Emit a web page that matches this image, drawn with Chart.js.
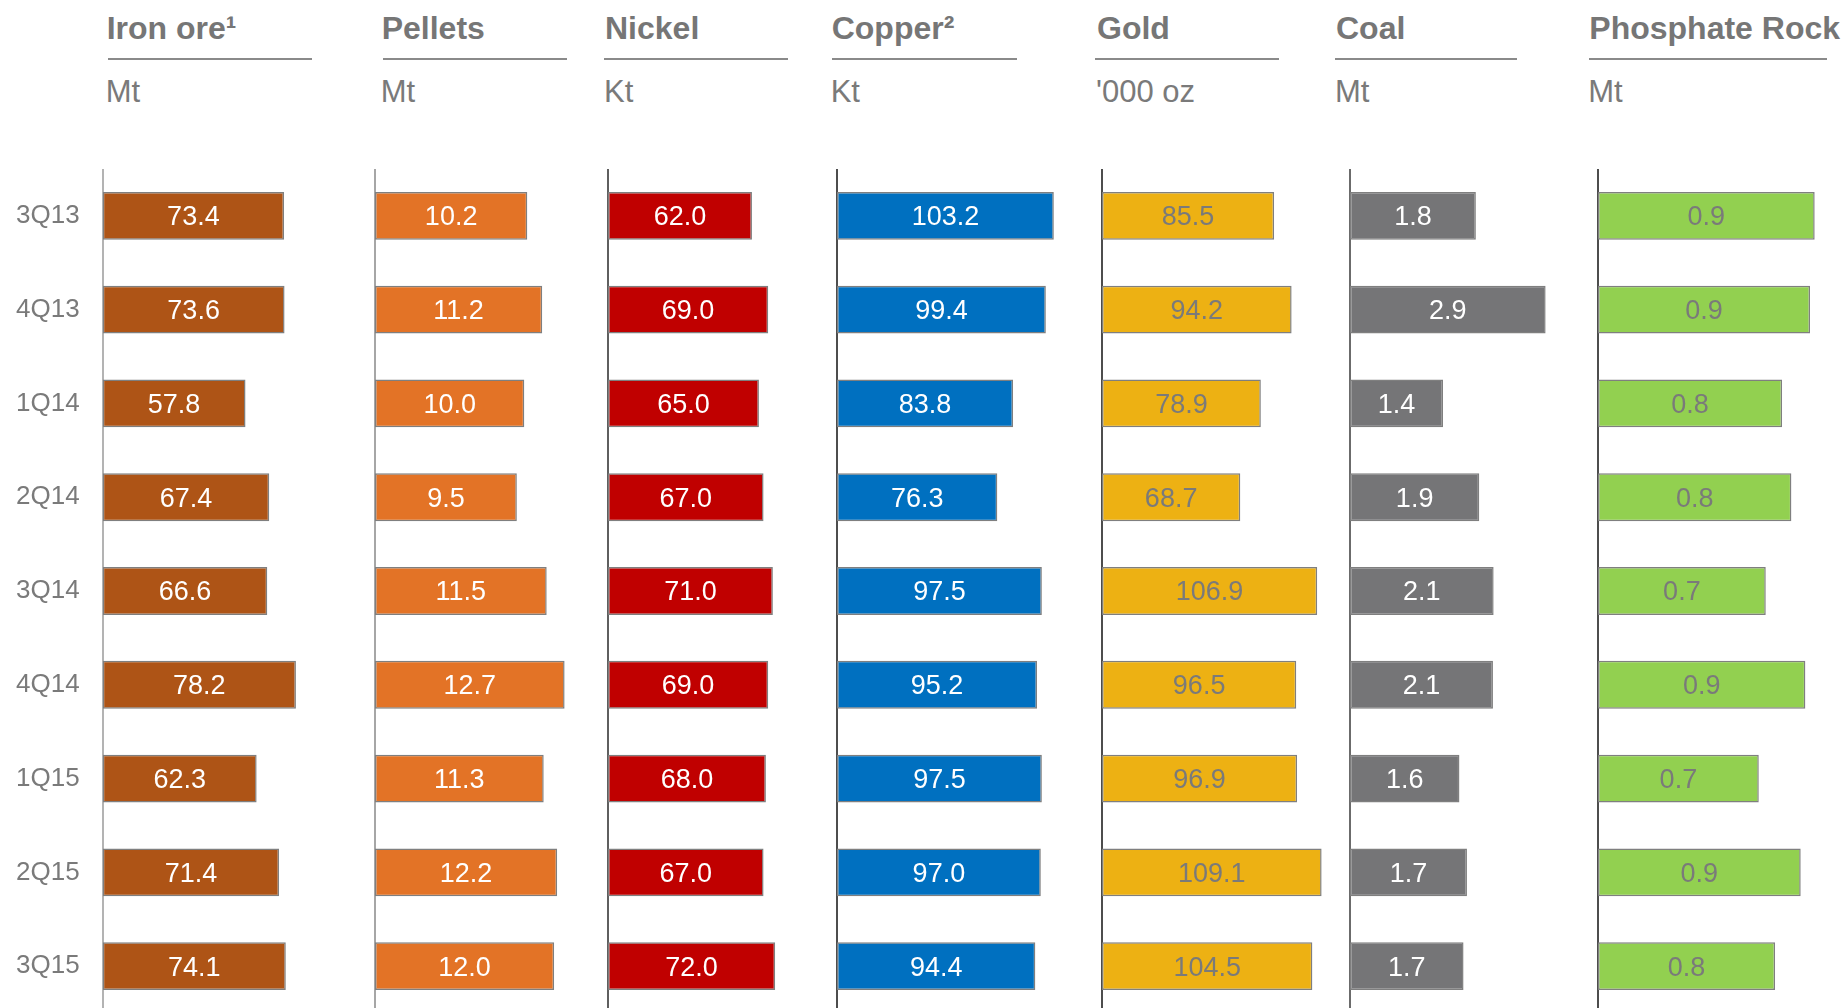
<!DOCTYPE html>
<html>
<head>
<meta charset="utf-8">
<script src="https://cdn.jsdelivr.net/npm/chart.js@4.4.0/dist/chart.umd.min.js"></script>
<style>
  html, body { margin: 0; padding: 0; background: #fff; overflow: hidden; }
  #hoja { position: relative; width: 1848px; height: 1008px; font-family: "Liberation Sans", Arial, sans-serif; }
  .titulo { position: absolute; top: 12px; font-size: 32px; line-height: 32px; font-weight: bold; color: #767676; white-space: nowrap; }
  .unidad { position: absolute; top: 76px; font-size: 31px; line-height: 31px; color: #7a7a7a; white-space: nowrap; }
  .raya { position: absolute; top: 58px; height: 0; border-top: 2px solid #8a8a8a; }
  canvas { position: absolute; top: 169px; }
</style>
</head>
<body>
<div id="hoja"></div>
<script>
const trimestres = ['3Q13', '4Q13', '1Q14', '2Q14', '3Q14', '4Q14', '1Q15', '2Q15', '3Q15'];
const titulos = ['Iron ore¹', 'Pellets', 'Nickel', 'Copper²', 'Gold', 'Coal', 'Phosphate Rock'];
const unidades = ['Mt', 'Mt', 'Kt', 'Kt', "'000 oz", 'Mt', 'Mt'];

const ironOre = [73.4, 73.6, 57.8, 67.4, 66.6, 78.2, 62.3, 71.4, 74.1];
const pellets = [10.2, 11.2, 10.0, 9.5, 11.5, 12.7, 11.3, 12.2, 12.0];
const nickel = [62.0, 69.0, 65.0, 67.0, 71.0, 69.0, 68.0, 67.0, 72.0];
const copper = [103.2, 99.4, 83.8, 76.3, 97.5, 95.2, 97.5, 97.0, 94.4];
const gold = [85.5, 94.2, 78.9, 68.7, 106.9, 96.5, 96.9, 109.1, 104.5];
const coal = [1.84, 2.86, 1.36, 1.89, 2.10, 2.09, 1.60, 1.71, 1.66];
const phosphate = [0.93, 0.91, 0.79, 0.83, 0.72, 0.89, 0.69, 0.87, 0.76];

const series = [ironOre, pellets, nickel, copper, gold, coal, phosphate];

// posicion de cada panel: eje = x del cero, ppu = pixeles por unidad
const paneles = [
    { eje: 102.7, ppu: 2.471, area: 263, color: '#AE5416', texto: '#ffffff', linea: '#b3b3b3', tx: 106.7, l1: 108, l2: 312 },
    { eje: 374.7, ppu: 14.93, area: 225, color: '#E37326', texto: '#ffffff', linea: '#a6a6a6', tx: 381.7, l1: 383, l2: 567 },
    { eje: 608, ppu: 2.322, area: 220, color: '#C00000', texto: '#ffffff', linea: '#5f5f5f', tx: 605, l1: 604, l2: 788 },
    { eje: 837, ppu: 2.101, area: 255, color: '#0070C0', texto: '#ffffff', linea: '#4d4d4d', tx: 831.7, l1: 832, l2: 1017 },
    { eje: 1102, ppu: 2.013, area: 240, color: '#EDB113', texto: '#7a7a7a', linea: '#4d4d4d', tx: 1097, l1: 1095, l2: 1279 },
    { eje: 1350, ppu: 68.4, area: 240, color: '#757577', texto: '#ffffff', linea: '#6b6b6b', tx: 1336, l1: 1335, l2: 1517 },
    { eje: 1598.3, ppu: 233, area: 240, color: '#92D050', texto: '#7a7a7a', linea: '#4d4d4d', tx: 1589.3, l1: 1589, l2: 1827 }
];

const fuente = '"Liberation Sans", Arial, sans-serif';
const hoja = document.getElementById('hoja');

const etiquetas = {
    id: 'etiquetas',
    afterDatasetsDraw(chart, args, opts) {
        const ctx = chart.ctx;
        const valores = chart.data.datasets[0].data;
        ctx.save();
        ctx.font = '27px ' + fuente;
        ctx.fillStyle = opts.color;
        ctx.textAlign = 'center';
        ctx.textBaseline = 'middle';
        chart.getDatasetMeta(0).data.forEach((barra, i) => {
            ctx.fillText(valores[i].toFixed(1), (barra.x + barra.base) / 2, barra.y + 2);
        });
        ctx.restore();
    }
};

paneles.forEach((p, i) => {
    const t = document.createElement('div');
    t.className = 'titulo';
    t.style.left = p.tx + 'px';
    t.textContent = titulos[i];
    hoja.appendChild(t);

    const r = document.createElement('div');
    r.className = 'raya';
    r.style.left = p.l1 + 'px';
    r.style.width = (p.l2 - p.l1) + 'px';
    hoja.appendChild(r);

    const u = document.createElement('div');
    u.className = 'unidad';
    u.style.left = (p.tx - 1) + 'px';
    u.textContent = unidades[i];
    hoja.appendChild(u);

    const primero = i === 0;
    const izq = primero ? 0 : p.eje - 4;
    const ancho = Math.round(p.eje - izq + p.area);
    const areaReal = ancho - (p.eje - izq);

    const canvas = document.createElement('canvas');
    canvas.width = ancho;
    canvas.height = 844;
    canvas.style.left = izq + 'px';
    canvas.style.width = ancho + 'px';
    canvas.style.height = '844px';
    hoja.appendChild(canvas);

    new Chart(canvas, {
        type: 'bar',
        data: {
            labels: trimestres,
            datasets: [{
                data: series[i],
                backgroundColor: p.color,
                borderColor: '#7f7f7f',
                borderWidth: 1.5,
                borderSkipped: false,
                barPercentage: 0.51,
                categoryPercentage: 1
            }]
        },
        options: {
            indexAxis: 'y',
            responsive: false,
            animation: false,
            layout: { padding: { left: primero ? 0 : p.eje - izq, right: 0, top: 0, bottom: 0 } },
            plugins: {
                legend: { display: false },
                tooltip: { enabled: false },
                etiquetas: { color: p.texto }
            },
            scales: {
                x: { display: false, min: 0, max: areaReal / p.ppu },
                y: {
                    z: 1,
                    grid: { display: false, drawTicks: false },
                    border: { color: p.linea, width: 2 },
                    ticks: {
                        display: primero,
                        padding: 23,
                        color: '#7a7a7a',
                        font: { size: 26, family: fuente }
                    },
                    afterFit: escala => {
                        if (primero) escala.width = p.eje;
                        else escala.width = 0;
                        escala.paddingTop = 0;
                        escala.paddingBottom = 0;
                    }
                }
            }
        },
        plugins: [etiquetas]
    });
});
</script>
</body>
</html>
